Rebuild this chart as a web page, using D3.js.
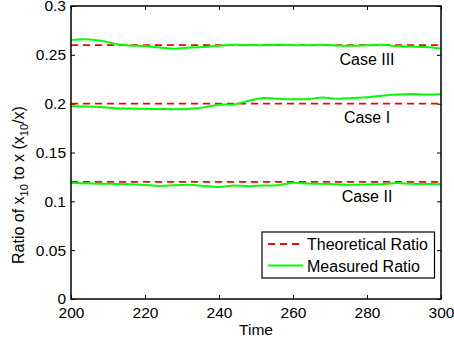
<!DOCTYPE html>
<html>
<head>
<meta charset="utf-8">
<script src="https://cdn.jsdelivr.net/npm/d3@7"></script>
<style>
  body { margin: 0; background: #fff; }
  svg { display: block; font-family: "Liberation Sans", Arial, sans-serif; }
</style>
</head>
<body>
<svg id="chart" width="454" height="344"></svg>
<script>
// time samples (x axis)
const times = [200, 204, 208, 212, 216, 220, 224, 228, 232, 236, 240, 244, 248,
               252, 256, 260, 264, 268, 272, 276, 280, 284, 288, 292, 296, 300];

// measured ratios
const measuredCaseIII = [0.2652, 0.2660, 0.2645, 0.2612, 0.2596, 0.2590, 0.2575, 0.2562, 0.2576,
                         0.2580, 0.2593, 0.2602, 0.2600, 0.2598, 0.2604, 0.2600, 0.2598, 0.2603,
                         0.2596, 0.2592, 0.2597, 0.2603, 0.2590, 0.2585, 0.2580, 0.2565];
const measuredCaseI = [0.1973, 0.1972, 0.1966, 0.1953, 0.1950, 0.1948, 0.1945, 0.1943, 0.1948,
                       0.1962, 0.1990, 0.1992, 0.2030, 0.2057, 0.2050, 0.2045, 0.2046, 0.2063,
                       0.2050, 0.2058, 0.2066, 0.2080, 0.2094, 0.2100, 0.2093, 0.2096];
const measuredCaseII = [0.1187, 0.1185, 0.1180, 0.1178, 0.1175, 0.1168, 0.1158, 0.1165, 0.1170,
                        0.1158, 0.1148, 0.1163, 0.1155, 0.1162, 0.1165, 0.1190, 0.1182, 0.1180,
                        0.1174, 0.1170, 0.1173, 0.1176, 0.1187, 0.1180, 0.1178, 0.1174];

// theoretical ratios (constant)
const caseNames = ['Case III', 'Case I', 'Case II'];
const theoretical = [0.26, 0.2, 0.12];
const labelTime = [280, 280, 280];
const labelValue = [0.2396, 0.1805, 0.0996];

const xTicks = [200, 220, 240, 260, 280, 300];
const yTicks = [0, 0.05, 0.1, 0.15, 0.2, 0.25, 0.3];
const legendLabels = ['Theoretical Ratio', 'Measured Ratio'];

const margin = {top: 6, right: 13, bottom: 45, left: 71};
const svgWidth = 454, svgHeight = 344;
const width = svgWidth - margin.left - margin.right;
const height = svgHeight - margin.top - margin.bottom;

const svg = d3.select('#chart');
const chart = svg.append('g')
  .attr('transform', `translate(${margin.left},${margin.top})`);

const xScale = d3.scaleLinear().domain([200, 300]).range([0, width]);
const yScale = d3.scaleLinear().domain([0, 0.3]).range([height, 0]);

/******** axes (MATLAB-style box with inward ticks) ********/
const fmtY = d => d === 0 ? '0' : String(d);

const xAxis = chart.append('g')
  .attr('transform', `translate(0,${height})`)
  .call(d3.axisBottom(xScale).tickValues(xTicks).tickSizeInner(-4).tickSizeOuter(0).tickPadding(8));
const yAxis = chart.append('g')
  .call(d3.axisLeft(yScale).tickValues(yTicks).tickFormat(fmtY).tickSizeInner(-4).tickSizeOuter(0).tickPadding(5));
const xTop = chart.append('g')
  .call(d3.axisTop(xScale).tickValues(xTicks).tickSizeInner(-4).tickSizeOuter(0).tickFormat(''));
const yRight = chart.append('g')
  .attr('transform', `translate(${width},0)`)
  .call(d3.axisRight(yScale).tickValues(yTicks).tickSizeInner(-4).tickSizeOuter(0).tickFormat(''));

[xAxis, yAxis, xTop, yRight].forEach(a => {
  a.select('.domain').remove();
  a.selectAll('line').attr('stroke', '#000').attr('stroke-width', 1);
  a.selectAll('text').attr('fill', '#000').style('font-size', '15.5px')
    .style('font-family', '"Liberation Sans", Arial, sans-serif');
});

/******** lines ********/
const line = d3.line()
  .x(d => xScale(d[0]))
  .y(d => yScale(d[1]))
  .curve(d3.curveCatmullRom);

theoretical.forEach(v => {
  chart.append('path')
    .datum([[200, v], [300, v]])
    .attr('d', line)
    .attr('fill', 'none')
    .attr('stroke', '#ff0000')
    .attr('stroke-width', 1.8)
    .attr('stroke-dasharray', '7,5');
});

[measuredCaseIII, measuredCaseI, measuredCaseII].forEach(series => {
  chart.append('path')
    .datum(series.map((v, i) => [times[i], v]))
    .attr('d', line)
    .attr('fill', 'none')
    .attr('stroke', '#00ff00')
    .attr('stroke-width', 2);
});

// box
chart.append('rect')
  .attr('width', width).attr('height', height)
  .attr('fill', 'none').attr('stroke', '#000').attr('stroke-width', 1.5);

/******** case labels ********/
caseNames.forEach((name, i) => {
  chart.append('text')
    .attr('x', xScale(labelTime[i]))
    .attr('y', yScale(labelValue[i]))
    .attr('text-anchor', 'middle')
    .style('font-size', '16px')
    .text(name);
});

/******** legend ********/
const legend = svg.append('g').attr('transform', 'translate(262,232)');
legend.append('rect')
  .attr('width', 172.5).attr('height', 46)
  .attr('fill', '#fff').attr('stroke', '#000').attr('stroke-width', 1.2);
legendLabels.forEach((lab, i) => {
  const y = 12 + i * 21.5;
  legend.append('line')
    .attr('x1', 6).attr('x2', 41).attr('y1', y).attr('y2', y)
    .attr('stroke', i === 0 ? '#ff0000' : '#00ff00')
    .attr('stroke-width', i === 0 ? 1.8 : 2)
    .attr('stroke-dasharray', i === 0 ? '7,5' : null);
  legend.append('text')
    .attr('x', 45).attr('y', y + 6)
    .style('font-size', '16px')
    .text(lab);
});

/******** axis titles ********/
svg.append('text')
  .attr('x', margin.left + width / 2)
  .attr('y', 335)
  .attr('text-anchor', 'middle')
  .style('font-size', '15.5px')
  .text('Time');

const yLabel = svg.append('text')
  .attr('transform', 'translate(24,264) rotate(-90)')
  .style('font-size', '16px');
yLabel.append('tspan').text('Ratio of x');
yLabel.append('tspan').attr('dy', 4).style('font-size', '11px').text('10');
yLabel.append('tspan').attr('dy', -4).text(' to x (x');
yLabel.append('tspan').attr('dy', 4).style('font-size', '11px').text('10');
yLabel.append('tspan').attr('dy', -4).text('/x)');
</script>
</body>
</html>
